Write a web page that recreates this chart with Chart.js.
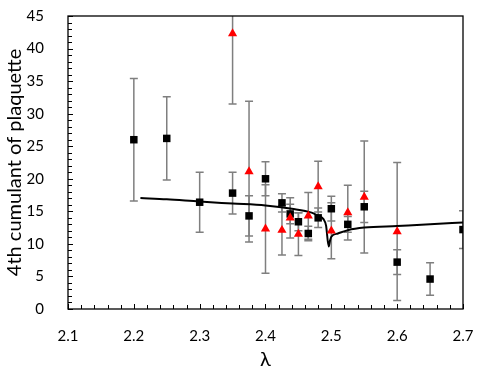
<!DOCTYPE html>
<html>
<head>
<meta charset="utf-8">
<script src="https://cdn.jsdelivr.net/npm/chart.js@4.4.0/dist/chart.umd.min.js"></script>
<style>
  html, body { margin: 0; padding: 0; background: #fff; overflow: hidden; }
  #wrap { width: 480px; height: 376px; }
</style>
</head>
<body>
<div id="wrap"><canvas id="chart"></canvas></div>
<script>
// squares (black)
const lambdaSq = [2.2, 2.25, 2.3, 2.35, 2.375, 2.4, 2.425, 2.4375, 2.45, 2.465, 2.48, 2.5, 2.525, 2.55, 2.6, 2.65, 2.7];
const k4Sq = [26.0, 26.2, 16.4, 17.8, 14.3, 20.0, 16.3, 14.6, 13.4, 11.6, 14.0, 15.4, 13.0, 15.7, 7.2, 4.6, 12.2];
const errSq = [9.4, 6.4, 4.6, 3.2, 3.1, 2.6, 1.4, 1.5, 1.4, 1.1, 1.5, 1.9, 1.2, 2.4, 1.9, 2.5, 2.9];

// triangles (red)
const lambdaTri = [2.35, 2.375, 2.4, 2.425, 2.4375, 2.45, 2.465, 2.48, 2.5, 2.525, 2.55, 2.6];
const k4Tri = [42.3, 21.1, 12.3, 12.1, 14.0, 11.5, 14.3, 18.8, 12.0, 14.8, 17.2, 11.9];
const errTri = [10.8, 10.8, 6.8, 3.8, 3.1, 3.3, 3.6, 3.9, 4.3, 4.2, 8.6, 10.6];

// fit curve
const lambdaFit = [2.21, 2.25, 2.3, 2.35, 2.4, 2.44, 2.47, 2.48, 2.488, 2.492, 2.496, 2.498, 2.5, 2.51, 2.525, 2.55, 2.6, 2.65, 2.7];
const k4Fit = [17.05, 16.85, 16.5, 16.2, 15.9, 15.4, 14.8, 14.3, 13.8, 12.8, 9.6, 10.5, 11.1, 11.6, 12.1, 12.5, 12.75, 13.0, 13.3];

const xTicks = [2.1, 2.2, 2.3, 2.4, 2.5, 2.6, 2.7];

const FONT = 'Lato, "Open Sans", sans-serif';

function pts(xs, ys) {
    return xs.map((x, i) => ({ x: x, y: ys[i] }));
}

// error bars + frame + inward ticks
const extras = {
    id: 'extras',
    beforeDatasetsDraw(chart) {
        const ctx = chart.ctx;
        const xs = chart.scales.x, ys = chart.scales.y;
        const a = chart.chartArea;
        ctx.save();
        ctx.beginPath();
        ctx.rect(a.left, a.top, a.right - a.left, a.bottom - a.top);
        ctx.clip();
        ctx.strokeStyle = '#7f7f7f';
        ctx.lineWidth = 1.5;
        const bars = [[lambdaSq, k4Sq, errSq], [lambdaTri, k4Tri, errTri]];
        bars.forEach(function (b) {
            b[0].forEach(function (lx, i) {
                const px = xs.getPixelForValue(lx);
                const top = ys.getPixelForValue(b[1][i] + b[2][i]);
                const bot = ys.getPixelForValue(b[1][i] - b[2][i]);
                ctx.beginPath();
                ctx.moveTo(px, top); ctx.lineTo(px, bot);
                ctx.moveTo(px - 4, top); ctx.lineTo(px + 4, top);
                ctx.moveTo(px - 4, bot); ctx.lineTo(px + 4, bot);
                ctx.stroke();
            });
        });
        ctx.restore();
    },
    afterDraw(chart) {
        const ctx = chart.ctx;
        const xs = chart.scales.x, ys = chart.scales.y;
        const a = chart.chartArea;
        ctx.save();
        ctx.strokeStyle = '#000';
        ctx.lineWidth = 1;
        ctx.beginPath();
        for (let v = 0; v <= 30; v++) {
            const px = Math.round(xs.getPixelForValue(2.1 + v * 0.02)) + 0.5;
            const len = v % 5 === 0 ? 5 : 4;
            ctx.moveTo(px, a.bottom); ctx.lineTo(px, a.bottom - len);
        }
        for (let v = 0; v <= 45; v++) {
            const py = Math.round(ys.getPixelForValue(v)) + 0.5;
            const len = v % 5 === 0 ? 5 : 4;
            ctx.moveTo(a.left, py); ctx.lineTo(a.left + len, py);
        }
        ctx.stroke();
        ctx.lineWidth = 1.3;
        ctx.strokeRect(a.left, a.top, a.right - a.left, a.bottom - a.top);
        ctx.restore();
    }
};

const ctx = document.getElementById('chart').getContext('2d');
const chart = new Chart(ctx, {
    type: 'scatter',
    data: {
        datasets: [{
            label: 'tri',
            data: pts(lambdaTri, k4Tri),
            pointStyle: 'triangle',
            pointRadius: 5.3,
            backgroundColor: '#ff0000',
            borderColor: '#ff0000',
            borderWidth: 0,
            order: 1
        }, {
            label: 'sq',
            data: pts(lambdaSq, k4Sq),
            pointStyle: 'rect',
            pointRadius: 5.3,
            backgroundColor: '#000000',
            borderColor: '#000000',
            borderWidth: 0,
            order: 2
        }, {
            label: 'fit',
            data: pts(lambdaFit, k4Fit),
            showLine: true,
            pointRadius: 0,
            borderColor: '#000000',
            borderWidth: 2,
            cubicInterpolationMode: 'monotone',
            order: 3
        }]
    },
    options: {
        responsive: true,
        maintainAspectRatio: false,
        animation: false,
        layout: { padding: { left: 0, right: 17, top: 16, bottom: 0 } },
        plugins: { legend: { display: false }, tooltip: { enabled: false } },
        scales: {
            x: {
                type: 'linear',
                min: 2.1,
                max: 2.7,
                afterBuildTicks: function (s) { s.ticks = xTicks.map(v => ({ value: v })); },
                afterFit: function (s) {
                    s.height = 67;
                    s.paddingLeft = 0; s.paddingRight = 0;
                },
                grid: { display: false },
                border: { display: false },
                ticks: {
                    padding: 10,
                    color: '#000',
                    font: { family: FONT, size: 15 },
                    callback: v => v.toFixed(1)
                },
                title: {
                    display: true,
                    text: 'λ',
                    color: '#000',
                    font: { family: FONT, size: 20 },
                    padding: { top: 2, bottom: 4 }
                }
            },
            y: {
                min: 0,
                max: 45,
                afterFit: function (s) {
                    s.width = 68;
                    s.paddingTop = 0; s.paddingBottom = 0;
                },
                grid: { display: false },
                border: { display: false },
                ticks: {
                    stepSize: 5,
                    padding: 16,
                    color: '#000',
                    font: { family: FONT, size: 15 }
                },
                title: {
                    display: true,
                    text: '4th cumulant of plaquette',
                    color: '#000',
                    font: { family: FONT, size: 20 },
                    padding: { top: 3, bottom: 2 }
                }
            }
        }
    },
    plugins: [extras]
});
</script>
</body>
</html>
